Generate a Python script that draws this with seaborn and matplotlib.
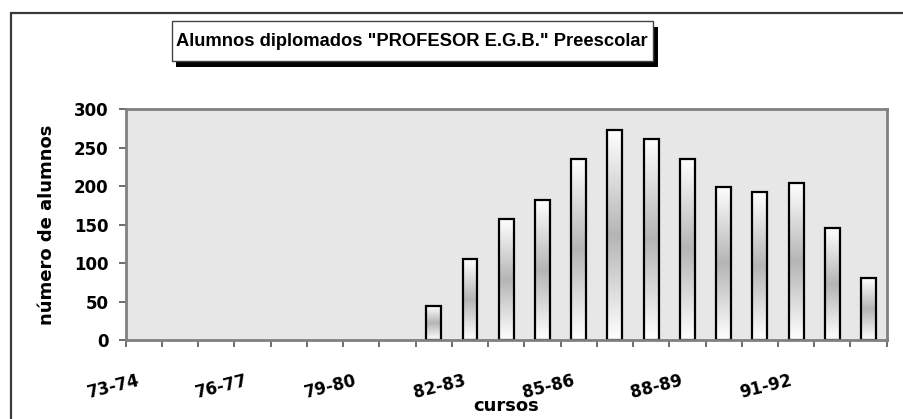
import numpy as np
import pandas as pd
import seaborn as sns
import matplotlib.pyplot as plt
from matplotlib.patches import Rectangle
from matplotlib.colors import LinearSegmentedColormap
import matplotlib.transforms as mtransforms

# data
cursos = ["73-74", "74-75", "75-76", "76-77", "77-78", "78-79", "79-80", "80-81",
          "81-82", "82-83", "83-84", "84-85", "85-86", "86-87", "87-88", "88-89",
          "89-90", "90-91", "91-92", "92-93", "93-94"]
alumnos = [0, 0, 0, 0, 0, 0, 0, 0,
           44, 105, 157, 182, 236, 273, 262, 236, 199, 192, 204, 145, 80]
shown_labels = ["73-74", "76-77", "79-80", "82-83", "85-86", "88-89", "91-92"]

df = pd.DataFrame({"curso": cursos, "alumnos": alumnos})

sns.set_style("white")
plt.rcParams['font.family'] = ['DejaVu Sans']
plt.rcParams['font.weight'] = 'bold'
plt.rcParams['text.color'] = 'black'
plt.rcParams['axes.labelcolor'] = 'black'
plt.rcParams['xtick.labelcolor'] = 'black'
plt.rcParams['ytick.labelcolor'] = 'black'

fig = plt.figure(figsize=(9.04, 4.19), dpi=100)
ax = fig.add_axes([125.7 / 904, 79 / 419, 761 / 904, 230.7 / 419])

# outer chart border (only left / top visible in the crop)
fig.patches.append(Rectangle((11 / 904, -0.2), 1.5, (419 - 13) / 419 + 0.2,
                             transform=fig.transFigure, fill=False,
                             edgecolor="#3a3a3a", lw=1.6))

ax.set_facecolor("#e7e7e7")
sns.barplot(data=df, x="curso", y="alumnos", ax=ax, width=0.41,
            color="white", edgecolor="black", linewidth=1.6, saturation=1)

# white-grey-white gradient inside the bars
grad_cmap = LinearSegmentedColormap.from_list("g", ["#ffffff", "#b5b5b5", "#ffffff"])
grad = np.linspace(0, 1, 256).reshape(-1, 1)
for p in list(ax.patches):
    if p.get_height() <= 0:
        p.set_visible(False)
        continue
    x0, y0 = p.get_x(), p.get_y()
    im = ax.imshow(grad, cmap=grad_cmap, aspect="auto", zorder=p.get_zorder() - 0.1,
                   extent=[x0, x0 + p.get_width(), y0, y0 + p.get_height()])
    im.set_clip_path(p)
    p.set_facecolor("none")

ax.set_xlim(-0.5, len(cursos) - 0.5)
ax.set_ylim(0, 300)
ax.set_yticks(range(0, 301, 50))
ax.tick_params(axis="y", labelsize=12, length=5.3, width=1.2, color="#555555",
               labelcolor="black", direction="out", left=True, pad=7)

# tick marks between categories, labels on every third category
ax.set_xticks(np.arange(-0.5, len(cursos), 1))
ax.set_xticklabels([])
ax.tick_params(axis="x", which="major", length=5, width=1.2, color="#555555",
               direction="out", bottom=True)
ax.set_xticks(range(len(cursos)), minor=True)
ax.set_xticklabels([c if c in shown_labels else "" for c in cursos], minor=True)
ax.tick_params(axis="x", which="minor", length=0, labelsize=12, pad=23,
               labelcolor="black")
offset = mtransforms.ScaledTranslation(-7 / 100, 0, fig.dpi_scale_trans)
for lab in ax.get_xticklabels(minor=True):
    lab.set_rotation(14)
    lab.set_ha("right")
    lab.set_va("top")
    lab.set_rotation_mode("anchor")
    lab.set_transform(lab.get_transform() + offset)

for s in ax.spines.values():
    s.set_color("#808080")
    s.set_linewidth(2)

ax.set_ylabel("número de alumnos", fontsize=13, fontweight="bold", color="black")
ax.yaxis.set_label_coords(-0.091, 0.5)
ax.set_xlabel("cursos", fontsize=13, fontweight="bold", color="black")
ax.xaxis.set_label_coords(0.5, -0.245)

# title box with drop shadow
fig.patches.append(Rectangle((176 / 904, 1 - 66.7 / 419), 482 / 904, 40 / 419,
                             transform=fig.transFigure, facecolor="black",
                             edgecolor="none", zorder=1))
fig.patches.append(Rectangle((171.7 / 904, 1 - 61 / 419), 481.3 / 904, 40 / 419,
                             transform=fig.transFigure, facecolor="white",
                             edgecolor="#444444", lw=1, zorder=2))
fig.text(412.3 / 904, 1 - 41 / 419, 'Alumnos diplomados "PROFESOR E.G.B." Preescolar',
         ha="center", va="center", fontsize=13.25, fontweight="bold", color="black",
         family=["Liberation Sans", "DejaVu Sans"], zorder=3)

fig.savefig("out.png", dpi=100)
